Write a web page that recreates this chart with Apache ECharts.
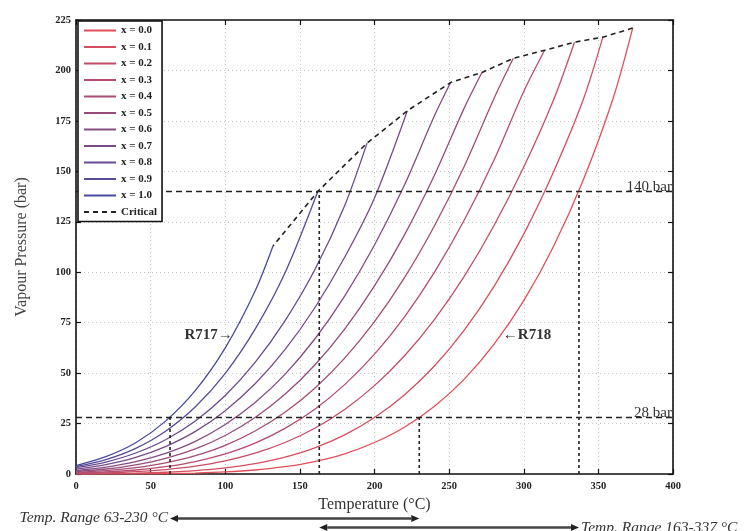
<!DOCTYPE html>
<html>
<head>
<meta charset="utf-8">
<script src="https://cdn.jsdelivr.net/npm/echarts@6/dist/echarts.min.js"></script>
<style>
  html, body {margin: 0; padding: 0; background: #fff;}
  #chart {width: 745px; height: 531px;}
</style>
</head>
<body>
<div id="chart"></div>
<script>
// ammonia mass fraction of each curve, x = 0.0 (R718) ... x = 1.0 (R717)
const fractions = ["0.0", "0.1", "0.2", "0.3", "0.4", "0.5", "0.6", "0.7", "0.8", "0.9", "1.0"];
const tempGrid = [0, 20, 40, 60, 80, 100, 120, 140, 160, 180, 200, 220, 240, 260, 280, 300, 320, 340, 360];

// vapour pressure (bar) read along tempGrid, each curve stops before its critical point
const pressX00 = [0.01, 0.02, 0.07, 0.2, 0.47, 1.01, 1.99, 3.61, 6.18, 10.0, 15.6, 23.2, 33.5, 46.9, 64.2, 85.9, 112.9, 146.0, 186.5];
const pressX01 = [0.07, 0.17, 0.41, 0.86, 1.67, 3.04, 5.18, 8.4, 13.0, 19.4, 28.0, 39.2, 53.4, 71.2, 92.9, 118.9, 149.8, 185.8];
const pressX02 = [0.24, 0.55, 1.15, 2.19, 3.89, 6.49, 10.3, 15.6, 22.7, 32.0, 43.8, 58.5, 76.4, 97.8, 123.0, 152.1, 185.5];
const pressX03 = [0.45, 1.0, 1.98, 3.62, 6.18, 9.97, 15.3, 22.6, 32.1, 44.3, 59.4, 77.8, 99.8, 125.6, 155.5, 189.6];
const pressX04 = [0.79, 1.65, 3.13, 5.51, 9.09, 14.2, 21.3, 30.6, 42.5, 57.4, 75.5, 97.2, 122.8, 152.3, 186.0];
const pressX05 = [1.23, 2.48, 4.55, 7.78, 12.5, 19.1, 28.0, 39.5, 54.0, 71.8, 93.2, 118.4, 147.8, 181.2];
const pressX06 = [1.72, 3.38, 6.1, 10.25, 16.2, 24.5, 35.4, 49.4, 66.9, 88.2, 113.5, 143.1, 177.3];
const pressX07 = [2.45, 4.69, 8.26, 13.6, 21.1, 31.4, 44.7, 61.6, 82.4, 107.4, 136.8];
const pressX08 = [3.11, 5.92, 10.4, 17.0, 26.3, 38.9, 55.3, 75.9, 101.2, 133.0];
const pressX09 = [3.67, 7.13, 12.7, 21.2, 33.3, 49.9, 71.8, 99.6];
const pressX10 = [4.2, 8.6, 15.5, 26.2, 41.4, 62.5, 90.7];
const pressureCurves = [pressX00, pressX01, pressX02, pressX03, pressX04, pressX05,
  pressX06, pressX07, pressX08, pressX09, pressX10];

// critical point of each curve, same order as fractions
const criticalTemps = [373, 353, 334, 314, 293, 272, 251, 222, 195, 162, 132];
const criticalPressures = [221, 216.5, 214, 210, 206, 199, 194, 180, 164, 140, 113];

// design limits and the temperatures where they cut R717 / R718
const levelPressures = [28, 140];
const levelLabels = ["28 bar", "140 bar"];
const guideTemps = [63, 163, 230, 337];
const guidePressures = [28, 140, 28, 140];
const rangeStarts = [63, 163];
const rangeEnds = [230, 337];
const rangeLabels = ["Temp. Range 63-230 °C", "Temp. Range 163-337 °C"];

const serif = "'Liberation Serif', 'DejaVu Serif', serif";

function curveColor(i) {
  const t = i / 10;
  const r = Math.round(228 + (72 - 228) * t);
  const g = Math.round(78 + (74 - 78) * t);
  const b = Math.round(88 + (158 - 88) * t);
  return `rgb(${r},${g},${b})`;
}

const chart = echarts.init(document.getElementById("chart"));

const series = fractions.map((f, i) => {
  const pts = pressureCurves[i].map((p, k) => [tempGrid[k], p]);
  pts.push([criticalTemps[i], criticalPressures[i]]);
  return {
    name: "x = " + f, type: "line", data: pts, symbol: "none", smooth: 0.3, z: 2,
    lineStyle: {width: 1.3, color: curveColor(i)}, itemStyle: {color: curveColor(i)},
  };
});

series.push({
  name: "Critical", type: "line", symbol: "none", z: 3,
  data: criticalTemps.map((t, i) => [t, criticalPressures[i]]),
  lineStyle: {width: 1.6, color: "#222", type: [5, 4]}, itemStyle: {color: "#222"},
});

levelPressures.forEach((p) => {
  series.push({
    type: "line", symbol: "none", z: 3, data: [[0, p], [400, p]],
    lineStyle: {width: 1.6, color: "#222", type: [6, 4]},
  });
});

guideTemps.forEach((t, i) => {
  series.push({
    type: "line", symbol: "none", z: 3, data: [[t, 0], [t, guidePressures[i]]],
    lineStyle: {width: 1.6, color: "#222", type: [3, 3]},
  });
});

const axisFont = {fontFamily: serif, fontSize: 10.5, fontWeight: "bold", color: "#222"};
const gridLine = {show: true, lineStyle: {color: "#c4c4c4", type: [1, 3], width: 1}};
const frame = {show: true, onZero: false, lineStyle: {color: "#111", width: 1.6}};
const tick = {show: true, inside: true, length: 5, lineStyle: {color: "#111", width: 1.2}};

const option = {
  animation: false,
  backgroundColor: "#fff",
  grid: {left: 76, right: 72, top: 20, bottom: 57},
  legend: {
    orient: "vertical", left: 78, top: 21, z: 20,
    data: series.filter(s => s.name).map(s => s.name),
    itemWidth: 32, itemHeight: 12, itemGap: 5.5,
    padding: [4, 5, 4, 5],
    itemStyle: {opacity: 0},
    backgroundColor: "#fff", borderColor: "#111", borderWidth: 1.6, borderRadius: 0,
    textStyle: {fontFamily: serif, fontSize: 11, fontWeight: "bold", color: "#222"},
  },
  xAxis: [
    {
      type: "value", min: 0, max: 400, interval: 50, position: "bottom",
      name: "Temperature (°C)", nameLocation: "middle", nameGap: 21,
      nameTextStyle: {fontFamily: serif, fontSize: 16, color: "#333"},
      axisLine: frame, axisTick: tick, splitLine: gridLine,
      axisLabel: Object.assign({margin: 7}, axisFont),
    },
    {
      type: "value", min: 0, max: 400, interval: 50, position: "top",
      axisLine: frame, axisTick: tick, splitLine: {show: false}, axisLabel: {show: false},
    },
  ],
  yAxis: [
    {
      type: "value", min: 0, max: 225, interval: 25, position: "left",
      name: "Vapour Pressure (bar)", nameLocation: "middle", nameGap: 46,
      nameTextStyle: {fontFamily: serif, fontSize: 16, color: "#444"},
      axisLine: frame, axisTick: tick, splitLine: gridLine,
      axisLabel: Object.assign({margin: 5}, axisFont),
    },
    {
      type: "value", min: 0, max: 225, interval: 25, position: "right",
      axisLine: frame, axisTick: tick, splitLine: {show: false}, axisLabel: {show: false},
    },
  ],
  series: series,
};

chart.setOption(option);

// annotations placed through the axes' own scales
const px = (t, p) => chart.convertToPixel({xAxisIndex: 0, yAxisIndex: 0}, [t, p]);
const graphics = [];
const annFont = (size, extra) => Object.assign({fontFamily: serif, fontSize: size, fill: "#333"}, extra || {});

levelPressures.forEach((p, i) => {
  const pos = px(400, p);
  graphics.push({
    type: "text", x: pos[0] - 1, y: pos[1] + 3, z: 10,
    style: annFont(15, {text: levelLabels[i], align: "right", verticalAlign: "bottom"}),
  });
});

const r717 = px(105, 69);
graphics.push({type: "text", x: r717[0], y: r717[1], z: 10,
  style: annFont(15, {text: "R717→", align: "right", verticalAlign: "middle", fontWeight: "bold"})});
const r718 = px(286, 69);
graphics.push({type: "text", x: r718[0], y: r718[1], z: 10,
  style: annFont(15, {text: "←R718", align: "left", verticalAlign: "middle", fontWeight: "bold"})});

const arrowLevels = [-22, -26.5];
rangeStarts.forEach((t0, i) => {
  const a = px(t0, arrowLevels[i]);
  const b = px(rangeEnds[i], arrowLevels[i]);
  const head = 8, half = 3.5;
  graphics.push({type: "line", shape: {x1: a[0] + head, y1: a[1], x2: b[0] - head, y2: b[1]},
    style: {stroke: "#444", lineWidth: 2.5}});
  graphics.push({type: "polygon", shape: {points: [[a[0], a[1]], [a[0] + head, a[1] - half], [a[0] + head, a[1] + half]]},
    style: {fill: "#222"}});
  graphics.push({type: "polygon", shape: {points: [[b[0], b[1]], [b[0] - head, b[1] - half], [b[0] - head, b[1] + half]]},
    style: {fill: "#222"}});
  if (i === 0) {
    graphics.push({type: "text", x: a[0] - 2, y: a[1], style: annFont(15.5,
      {text: rangeLabels[i], align: "right", verticalAlign: "middle", fontStyle: "italic"})});
  } else {
    graphics.push({type: "text", x: b[0] + 2, y: b[1], style: annFont(15.5,
      {text: rangeLabels[i], align: "left", verticalAlign: "middle", fontStyle: "italic"})});
  }
});

chart.setOption({graphic: graphics});
</script>
</body>
</html>
